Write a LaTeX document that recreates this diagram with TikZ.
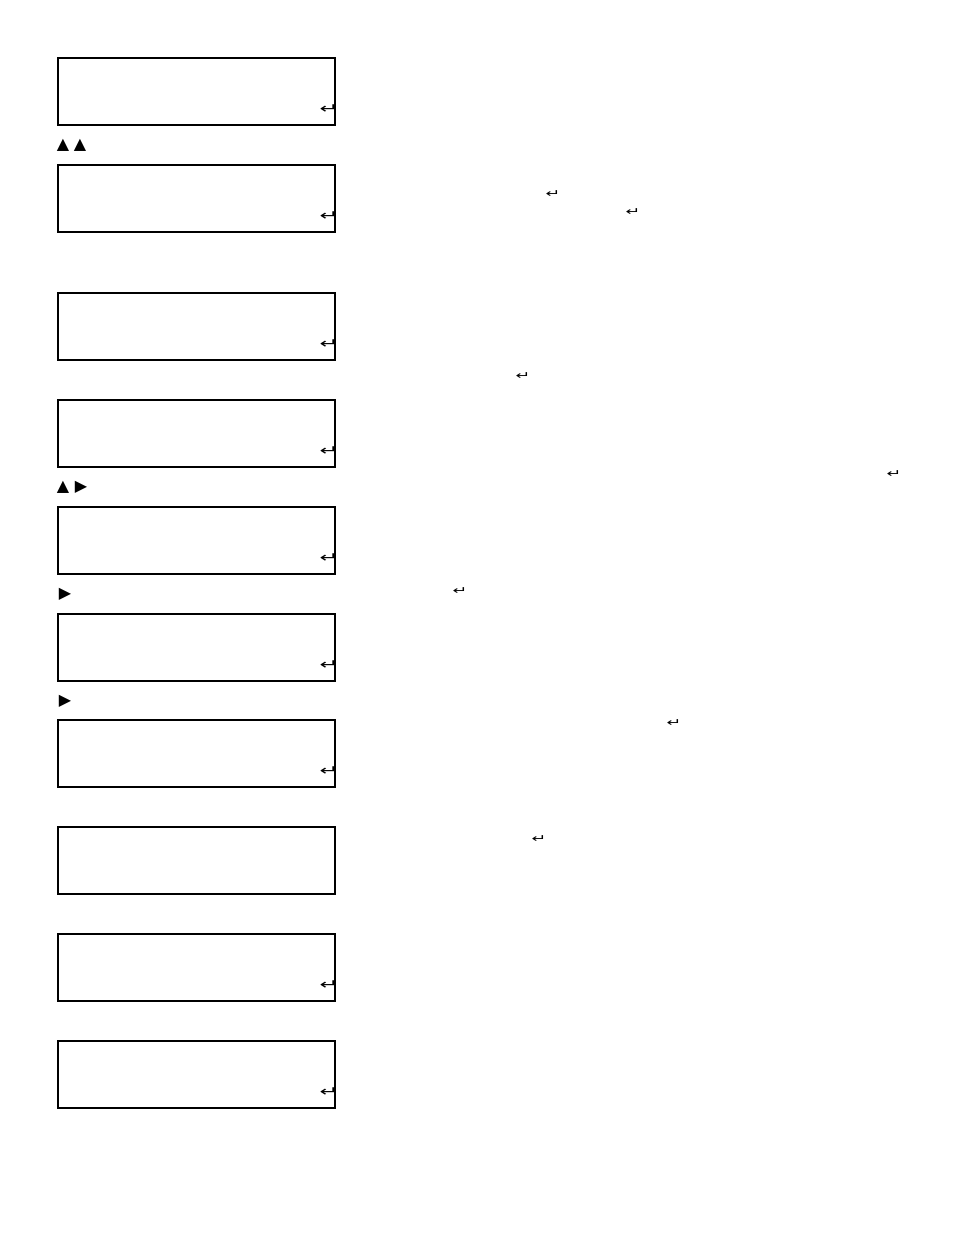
\documentclass[tikz,border=0pt]{standalone}
\usepackage{fontspec}
\newfontfamily\symfont{DejaVu Sans}
\usepackage{tikz}
\usetikzlibrary{positioning}

\newcommand{\enterkey}{\scalebox{1.6}[1]{↵}}

\tikzset{
  screen/.style={draw, line width=2.4pt, minimum width=277pt, minimum height=67pt, inner sep=0pt, outer sep=0pt, anchor=north west},
  retkey/.style={font=\symfont\fontsize{14}{14}\selectfont, inner sep=0pt},
  retnote/.style={font=\symfont\fontsize{11}{11}\selectfont, inner sep=0pt},
  arrowkey/.style={font=\symfont\fontsize{16}{16}\selectfont, inner sep=0pt}
}

\begin{document}
\begin{tikzpicture}[x=1pt,y=-1pt]
  \useasboundingbox (0,0) rectangle (954,1235);
  % display screens
  \foreach \n/\y in {1/58,2/165,3/293,4/400,5/507,6/614,7/720,8/827,9/934,10/1041}
    \node[screen] (lcd\n) at (58,\y) {};
  % enter key in the corner
  \foreach \n in {1,2,3,4,5,6,7,9,10}
    \node[retkey] (ret\n) at ([shift={(-6pt,16pt)}]lcd\n.south east) {\enterkey};
  % arrow keys
  \node[arrowkey] (up1) at (63,145) {▲};
  \node[arrowkey] (up2) at (80,145) {▲};
  \node[arrowkey] (up3) at (63,487) {▲};
  \node[arrowkey] (right1) at (81,487) {▶};
  \node[arrowkey] (right2) at (65,594) {▶};
  \node[arrowkey] (right3) at (65,701) {▶};
  % enter key in the notes
  \node[retnote] (note1) at (553,194) {\enterkey};
  \node[retnote] (note2) at (633,212) {\enterkey};
  \node[retnote] (note3) at (523,376) {\enterkey};
  \node[retnote] (note4) at (894,474) {\enterkey};
  \node[retnote] (note5) at (460,591) {\enterkey};
  \node[retnote] (note6) at (674,723) {\enterkey};
  \node[retnote] (note7) at (539,839) {\enterkey};
\end{tikzpicture}
\end{document}
